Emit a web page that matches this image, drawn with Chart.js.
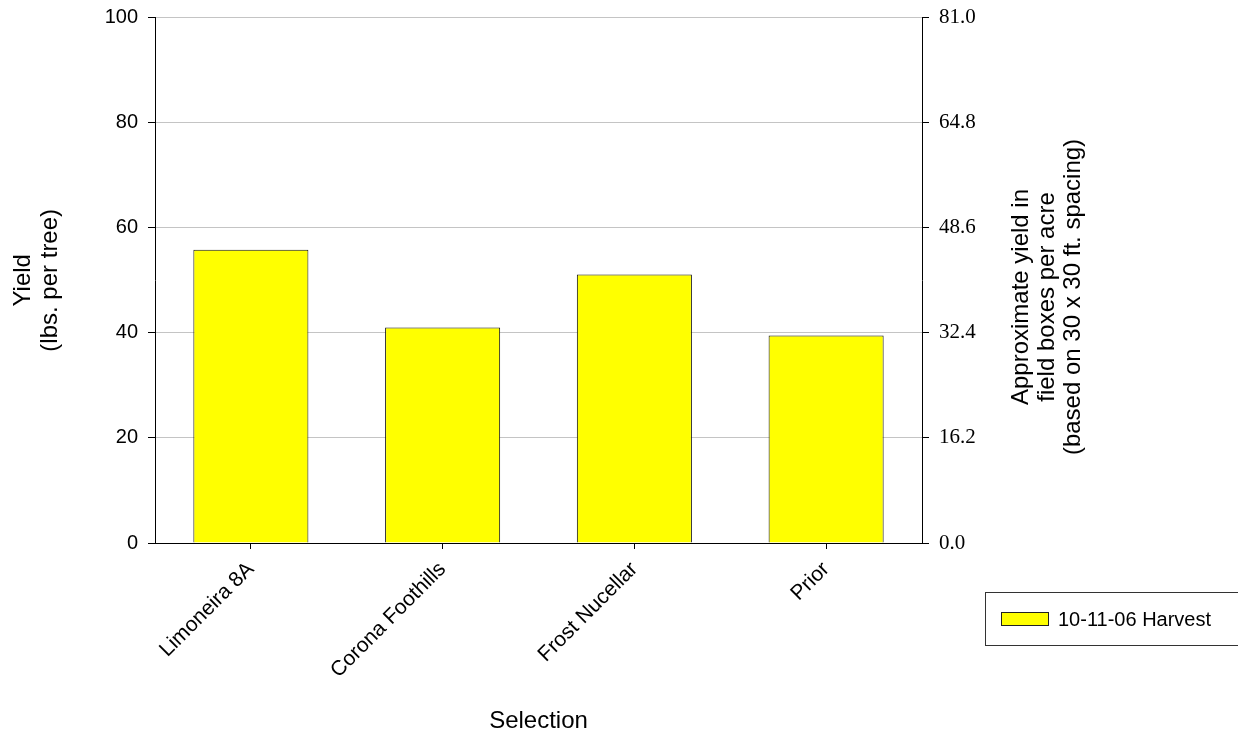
<!DOCTYPE html>
<html>
<head>
<meta charset="utf-8">
<script src="https://cdn.jsdelivr.net/npm/chart.js@4/dist/chart.umd.min.js"></script>
<style>
  html, body { margin: 0; padding: 0; background: #ffffff; overflow: hidden; }
  #wrap { position: relative; width: 1238px; height: 733px; overflow: hidden; }
  #c { position: absolute; left: 0; top: -5px; }
</style>
</head>
<body>
<div id="wrap"><canvas id="c" width="1238" height="738"></canvas></div>
<script>
// ---- data ----
const categories = ["Limoneira 8A", "Corona Foothills", "Frost Nucellar", "Prior"];
const seriesName = "10-11-06 Harvest";
const yieldValues = [55.8, 41.0, 51.1, 39.5];
const leftTicks = [0, 20, 40, 60, 80, 100];
const rightTicks = [0.0, 16.2, 32.4, 48.6, 64.8, 81.0];
const leftTitle = ["Yield", "(lbs. per tree)"];
const rightTitle = ["Approximate yield in", "field boxes per acre", "(based on 30 x 30 ft. spacing)"];
const xTitle = "Selection";

const SANS = "Arial, 'Liberation Sans', sans-serif";
const SERIF = "'Times New Roman', 'Liberation Serif', serif";
const SHIFT = 5; // canvas is drawn 5px above the page top

const extrasPlugin = {
  id: 'extras',
  afterDraw(chart) {
    const ctx = chart.ctx;
    const y2 = chart.scales.y2;
    // right axis title, reading bottom-to-top
    ctx.save();
    ctx.fillStyle = '#000';
    ctx.font = '24px ' + SANS;
    ctx.textAlign = 'center';
    ctx.textBaseline = 'middle';
    const cy = 297 + SHIFT;
    rightTitle.forEach((line, i) => {
      const x = y2.left + 99 + i * 26;
      ctx.save();
      ctx.translate(x, cy);
      ctx.rotate(-Math.PI / 2);
      ctx.fillText(line, 0, 0);
      ctx.restore();
    });
    ctx.restore();

    // legend box
    const ds = chart.data.datasets[0];
    ctx.save();
    ctx.strokeStyle = '#333';
    ctx.lineWidth = 1;
    ctx.strokeRect(985.5, 592.5 + SHIFT, 270, 53);
    ctx.fillStyle = ds.backgroundColor;
    ctx.fillRect(1001, 612 + SHIFT, 48, 14);
    ctx.strokeStyle = '#222';
    ctx.strokeRect(1001.5, 612.5 + SHIFT, 47, 13);
    ctx.fillStyle = '#000';
    ctx.font = '20px ' + SANS;
    ctx.textAlign = 'left';
    ctx.textBaseline = 'middle';
    ctx.fillText(ds.label, 1058, 620 + SHIFT);
    ctx.restore();
  }
};

new Chart(document.getElementById('c'), {
  type: 'bar',
  data: {
    labels: categories,
    datasets: [{
      label: seriesName,
      data: yieldValues,
      backgroundColor: '#ffff00',
      borderColor: '#111111',
      borderWidth: 1,
      borderSkipped: 'bottom',
      barPercentage: 0.6,
      categoryPercentage: 1.0,
      yAxisID: 'y'
    }]
  },
  options: {
    responsive: false,
    animation: false,
    devicePixelRatio: 1,
    layout: { padding: { top: 17, left: 0, right: 0, bottom: 0 } },
    plugins: { legend: { display: false }, tooltip: { enabled: false } },
    scales: {
      x: {
        offset: true,
        grid: { display: true, drawOnChartArea: false, tickLength: 6, tickColor: '#000', offset: false },
        border: { color: '#000', width: 1 },
        ticks: {
          autoSkip: false, minRotation: 45, maxRotation: 45, padding: 8,
          color: '#000', font: { size: 21, family: SANS }
        },
        title: {
          display: true, text: xTitle, color: '#000',
          font: { size: 24, family: SANS, lineHeight: 1.0 },
          padding: { top: 0, bottom: 0 }
        },
        afterFit(s) { s.height = 190; }
      },
      y: {
        position: 'left',
        min: 0, max: 100,
        afterBuildTicks(s) { s.ticks = leftTicks.map(v => ({ value: v })); },
        grid: {
          color: (c) => c.tick && c.tick.value === 0 ? 'rgba(0,0,0,0)' : '#c4c4c4',
          tickColor: '#000', tickLength: 7, lineWidth: 1
        },
        border: { color: '#000', width: 1 },
        ticks: { color: '#000', padding: 10, font: { size: 20, family: SANS } },
        title: {
          display: true, text: leftTitle, color: '#000',
          font: { size: 24, family: SANS, lineHeight: 1.125 },
          padding: { top: 10, bottom: 0 }
        },
        afterFit(s) { s.width = 155; }
      },
      y2: {
        position: 'right',
        min: 0, max: 81,
        afterBuildTicks(s) { s.ticks = rightTicks.map(v => ({ value: v })); },
        grid: { drawOnChartArea: false, tickColor: '#000', tickLength: 7 },
        border: { color: '#000', width: 1 },
        ticks: {
          color: '#000', padding: 10, font: { size: 21, family: SERIF },
          callback: (v) => Number(v).toFixed(1)
        },
        afterFit(s) { s.width = 316; }
      }
    }
  },
  plugins: [extrasPlugin]
});
</script>
</body>
</html>
